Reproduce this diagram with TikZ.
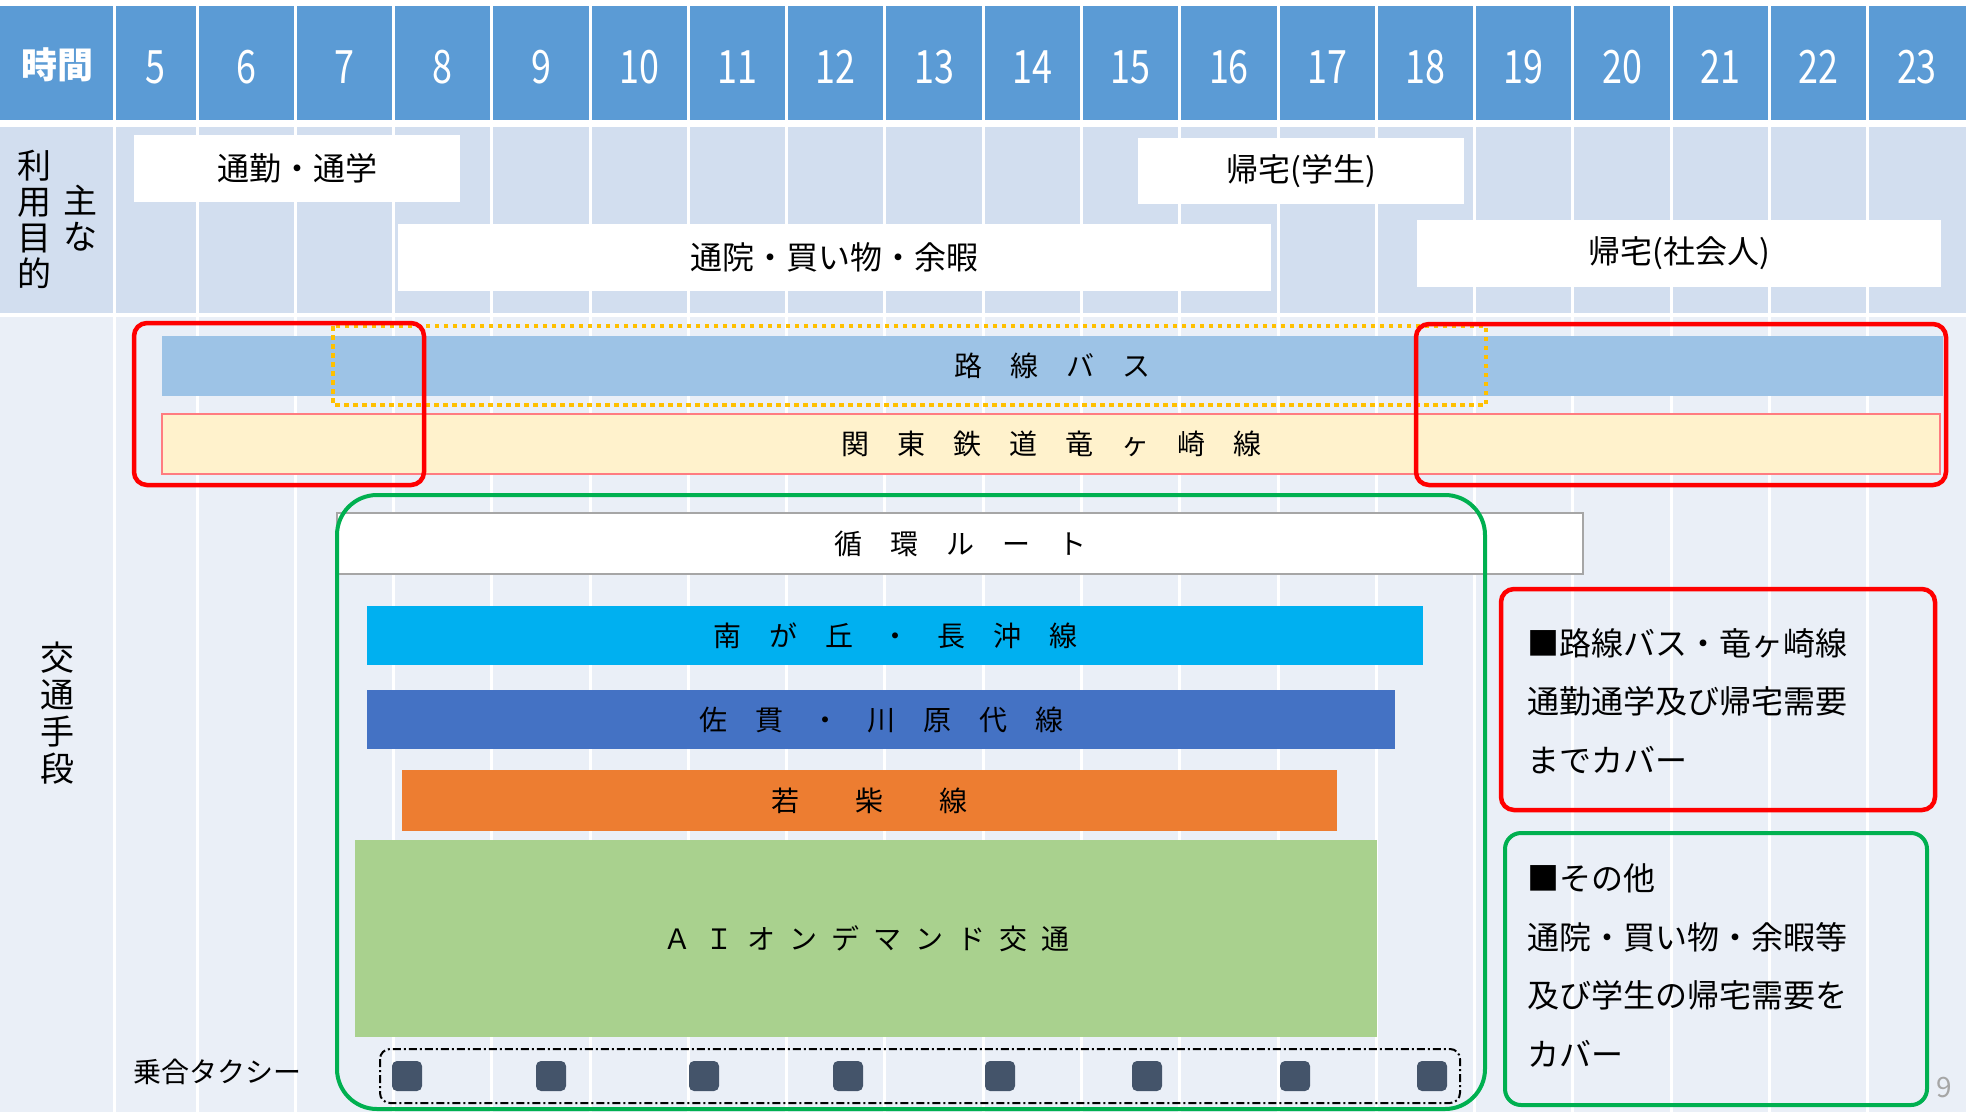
\documentclass[tikz,border=0pt]{standalone}
\usepackage{fontspec}
\setmainfont{Noto Sans CJK JP}
\usepackage{graphicx}
\usetikzlibrary{positioning}

\definecolor{headblue}{HTML}{5B9BD5}
\definecolor{bandA}{HTML}{D2DEEF}
\definecolor{bandB}{HTML}{EAEFF7}
\definecolor{busblue}{HTML}{9DC3E6}
\definecolor{railcream}{HTML}{FFF2CC}
\definecolor{railedge}{HTML}{FF7C80}
\definecolor{peakyellow}{HTML}{FFC000}
\definecolor{frred}{HTML}{FF0000}
\definecolor{frgreen}{HTML}{00B050}
\definecolor{minamicol}{HTML}{00B0F0}
\definecolor{sanukicol}{HTML}{4472C4}
\definecolor{wakacol}{HTML}{ED7D31}
\definecolor{aicol}{HTML}{A9D18E}
\definecolor{taxicol}{HTML}{44546A}
\definecolor{loopedge}{HTML}{A6A6A6}

\tikzset{
	hour/.style={text=white, inner sep=0pt, font=\fontsize{46}{50}\selectfont},
	aim/.style={rectangle, fill=white, inner sep=0pt, font=\fontsize{32}{36}\selectfont},
	bar/.style={rectangle, inner sep=0pt, font=\fontsize{28}{32}\selectfont},
	rowlabel/.style={align=center, inner sep=0pt, font=\fontsize{34}{36}\selectfont},
	note/.style={align=left, anchor=west, inner sep=0pt, font=\fontsize{32}{58.7}\selectfont},
	redframe/.style={draw=frred, line width=4.5pt, rounded corners=13pt},
	greenframe/.style={draw=frgreen, line width=4pt},
	cab/.style={rectangle, fill=taxicol, rounded corners=5pt, minimum width=30pt, minimum height=30pt, inner sep=0pt},
}
\newcommand{\hs}{\hspace{0.5em}}

\begin{document}
\begin{tikzpicture}[x=1pt, y=-1pt]
	\useasboundingbox (0,0) rectangle (1966,1112);
	\fill[white] (0,0) rectangle (1966,1112);
	% table rows
	\fill[headblue] (0,6) rectangle (1966,120);
	\fill[bandA] (0,127) rectangle (1966,313);
	\fill[bandB] (0,317) rectangle (1966,1112);
	\foreach \i in {0,...,17}
		\draw[white, line width=3pt] ({197+\i*98.28},0) -- ({197+\i*98.28},1112);
	\draw[white, line width=3pt] (114,0) -- (114,1112);
	
	% header
	\node (time) [hour, font=\fontsize{36}{40}\selectfont\bfseries] at (57,65) {時間};
	\node (h5) [hour] at (155.5,67) {\scalebox{0.78}[1]{5}};
	\foreach \h in {6,...,23}
		\node (h\h) [hour] at ({197+(\h-5.5)*98.28},67) {\scalebox{0.78}[1]{\h}};
	
	% purposes
	\node (commute) [aim, minimum width=326pt, minimum height=67pt] at (297,168.5) {通勤・通学};
	\node (student) [aim, minimum width=326pt, minimum height=66pt] at (1301,171) {帰宅(学生)};
	\node (errand) [aim, minimum width=873pt, minimum height=67pt] at (834.5,257.5) {通院・買い物・余暇};
	\node (worker) [aim, minimum width=524pt, minimum height=67pt] at (1679,253.5) {帰宅(社会人)};
	\node (aimR) [rowlabel] at (80,218) {主\\な};
	\node (aimL) [rowlabel] at (34,219.5) {利\\用\\目\\的};
	\node (mode) [rowlabel, font=\fontsize{34}{37}\selectfont] at (57,713) {交\\通\\手\\段};
	
	% lines
	\node (bus) [bar, fill=busblue, minimum width=1781pt, minimum height=60pt] at (1052.5,366) {路　線　バ　ス};
	\node (rail) [bar, fill=railcream, draw=railedge, line width=1.5pt, minimum width=1778pt, minimum height=60pt] at (1051,444) {関　東　鉄　道　竜　ヶ　崎　線};
	\node (loop) [bar, fill=white, draw=loopedge, line width=1.5pt, minimum width=1246pt, minimum height=61pt] at (960,543.5) {循　環　ル　ー　ト};
	\node (minami) [bar, fill=minamicol, minimum width=1056pt, minimum height=59pt] at (895,635.5) {南　が　丘　・　長　沖　線};
	\node (sanuki) [bar, fill=sanukicol, minimum width=1028pt, minimum height=59pt] at (881,719.5) {佐　貫　・　川　原　代　線};
	\node (waka) [bar, fill=wakacol, minimum width=935pt, minimum height=61pt] at (869.5,800.5) {若　　柴　　線};
	\node (ai) [bar, fill=aicol, minimum width=1022pt, minimum height=197pt] at (866,938.5) {Ａ\hs Ｉ\hs オ\hs ン\hs デ\hs マ\hs ン\hs ド\hs 交\hs 通};
	
	% shared taxi
	\node (taxi) [bar] at (217,1072) {乗合タクシー};
	\draw[black, line width=2pt, dash pattern=on 8pt off 3pt on 2pt off 3pt, rounded corners=10pt] (380,1049) rectangle (1460,1103);
	\foreach \c [count=\n] in {407,551,704,848,1000,1147,1295,1432}
		\node (cab\n) [cab] at (\c,1076) {};
	
	% frames
	\draw[peakyellow, line width=4.5pt, dash pattern=on 4.5pt off 4.5pt] (333,326) rectangle (1486,405);
	\draw[redframe] (134,323) rectangle (424,485);
	\draw[redframe] (1416,324) rectangle (1946,485);
	\draw[greenframe, rounded corners=40pt] (337,495) rectangle (1485,1109);
	
	% notes
	\draw[redframe] (1501,589) rectangle (1935,810);
	\node (noteR) [note] at (1527,701) {■路線バス・竜ヶ崎線\\通勤通学及び帰宅需要\\までカバー};
	\draw[greenframe, rounded corners=16pt] (1505,833) rectangle (1927,1105);
	\node (noteG) [note] at (1527,965.5) {■その他\\通院・買い物・余暇等\\及び学生の帰宅需要を\\カバー};
	\node (page) [text=gray!70, font=\fontsize{28}{30}\selectfont] at (1944,1088) {9};
\end{tikzpicture}
\end{document}
